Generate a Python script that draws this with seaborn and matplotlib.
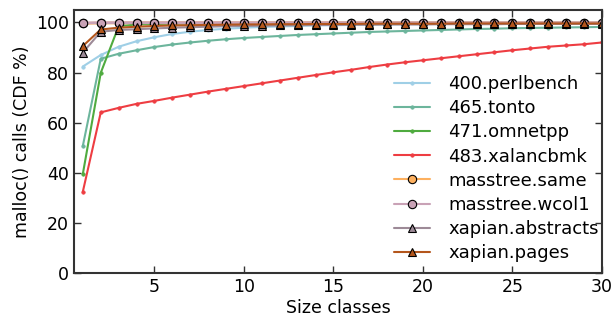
import numpy as np
import pandas as pd
import matplotlib
matplotlib.use("Agg")
import matplotlib.pyplot as plt
import seaborn as sns

size_classes = list(range(1, 31))

perlbench = [82.4, 87.0, 90.3, 92.5, 94.1, 95.4, 96.3, 97.0, 97.5, 97.9, 98.2, 98.4, 98.6, 98.8, 98.9,
             99.0, 99.1, 99.2, 99.3, 99.3, 99.4, 99.4, 99.5, 99.5, 99.5, 99.6, 99.6, 99.6, 99.7, 99.7]
tonto = [50.8, 85.5, 87.5, 88.9, 90.2, 91.2, 92.0, 92.7, 93.3, 93.8, 94.2, 94.6, 95.0, 95.3, 95.6,
         95.9, 96.2, 96.4, 96.6, 96.8, 97.0, 97.2, 97.4, 97.5, 97.7, 97.8, 97.9, 98.0, 98.1, 98.2]
omnetpp = [39.6, 79.9, 98.5, 99.2, 99.4, 99.5, 99.6, 99.6, 99.7, 99.7, 99.7, 99.8, 99.8, 99.8, 99.8,
           99.8, 99.8, 99.9, 99.9, 99.9, 99.9, 99.9, 99.9, 99.9, 99.9, 99.9, 99.9, 99.9, 99.9, 99.9]
xalancbmk = [32.5, 64.1, 65.9, 67.5, 68.7, 70.0, 71.2, 72.4, 73.5, 74.6, 75.7, 76.8, 77.9, 79.0, 80.1,
             81.1, 82.2, 83.2, 84.1, 84.9, 85.7, 86.5, 87.3, 88.1, 88.9, 89.6, 90.3, 90.8, 91.3, 92.0]
masstree_same = [99.6, 99.8, 99.8, 99.9, 99.9, 99.9, 99.9, 99.9, 99.9, 99.9, 99.9, 99.9, 99.9, 99.9, 99.9,
                 99.9, 99.9, 99.9, 99.9, 99.9, 99.9, 99.9, 99.9, 99.9, 99.9, 99.9, 99.9, 99.9, 99.9, 99.9]
masstree_wcol1 = [99.8, 99.9, 99.9, 99.9, 99.9, 99.9, 99.9, 99.9, 99.9, 99.9, 99.9, 99.9, 99.9, 99.9, 99.9,
                  99.9, 99.9, 99.9, 99.9, 99.9, 99.9, 99.9, 99.9, 99.9, 99.9, 99.9, 99.9, 99.9, 99.9, 99.9]
xapian_abstracts = [88.0, 96.3, 97.0, 97.3, 97.6, 97.9, 98.1, 98.3, 98.5, 98.6, 98.7, 98.8, 98.9, 99.0, 99.0,
                    99.1, 99.1, 99.2, 99.2, 99.2, 99.3, 99.3, 99.3, 99.3, 99.4, 99.4, 99.4, 99.4, 99.4, 99.4]
xapian_pages = [90.6, 97.2, 97.9, 98.3, 98.6, 98.8, 98.9, 99.0, 99.1, 99.2, 99.2, 99.3, 99.3, 99.4, 99.4,
                99.4, 99.5, 99.5, 99.5, 99.5, 99.5, 99.6, 99.6, 99.6, 99.6, 99.6, 99.6, 99.6, 99.6, 99.6]

series_names = ["400.perlbench", "465.tonto", "471.omnetpp", "483.xalancbmk",
                "masstree.same", "masstree.wcol1", "xapian.abstracts", "xapian.pages"]
series_values = [perlbench, tonto, omnetpp, xalancbmk,
                 masstree_same, masstree_wcol1, xapian_abstracts, xapian_pages]
colors = ["#9fcfe6", "#6cb59c", "#4fab3f", "#ee3d42",
          "#fdb05f", "#c9a2b6", "#9d8a97", "#b4561c"]
markers = [".", ".", ".", ".", "o", "o", "^", "^"]
msizes = [5, 5, 5, 5, 6, 6, 6, 6]
lwidths = [1.5, 1.5, 1.5, 1.5, 2.0, 2.0, 1.5, 1.5]

sns.set_style("ticks")
plt.rcParams["font.family"] = ["DejaVu Sans"]
plt.rcParams["text.color"] = "black"
plt.rcParams["axes.labelcolor"] = "black"
plt.rcParams["xtick.color"] = "black"
plt.rcParams["ytick.color"] = "black"

fig = plt.figure(figsize=(6.16, 3.2), dpi=100)
ax = fig.add_axes([0.12, 0.147, 0.857, 0.822])

for name, vals, c, m, ms, lw in zip(series_names, series_values, colors, markers, msizes, lwidths):
    df = pd.DataFrame({"x": size_classes, "y": vals})
    big = m in ("o", "^")
    sns.lineplot(data=df, x="x", y="y", ax=ax, color=c, label=name, linewidth=lw,
                 marker=m, markersize=ms, markerfacecolor=c,
                 markeredgecolor="black" if big else c,
                 markeredgewidth=0.8 if big else 0.5)

ax.set_xlim(0.5, 30)
ax.set_ylim(0, 105)
ax.set_xticks([5, 10, 15, 20, 25, 30])
ax.set_yticks([0, 20, 40, 60, 80, 100])
ax.set_xlabel("Size classes", fontsize=12.5, labelpad=2)
ax.set_ylabel("malloc() calls (CDF %)", fontsize=12.5, labelpad=4)
ax.tick_params(direction="in", top=True, right=True, labelsize=12.5, length=5,
               width=1, color="#333333", labelcolor="black")
for s in ax.spines.values():
    s.set_visible(True)
    s.set_color("#333333")
    s.set_linewidth(1.5)

leg = ax.legend(loc="lower right", bbox_to_anchor=(1.015, 0.0), frameon=False, fontsize=13,
                handlelength=2.0, labelspacing=0.34, borderaxespad=0.2, handletextpad=1.0)
for h in leg.get_lines():
    h.set_linewidth(1.5)

fig.savefig("out.png", dpi=100)
